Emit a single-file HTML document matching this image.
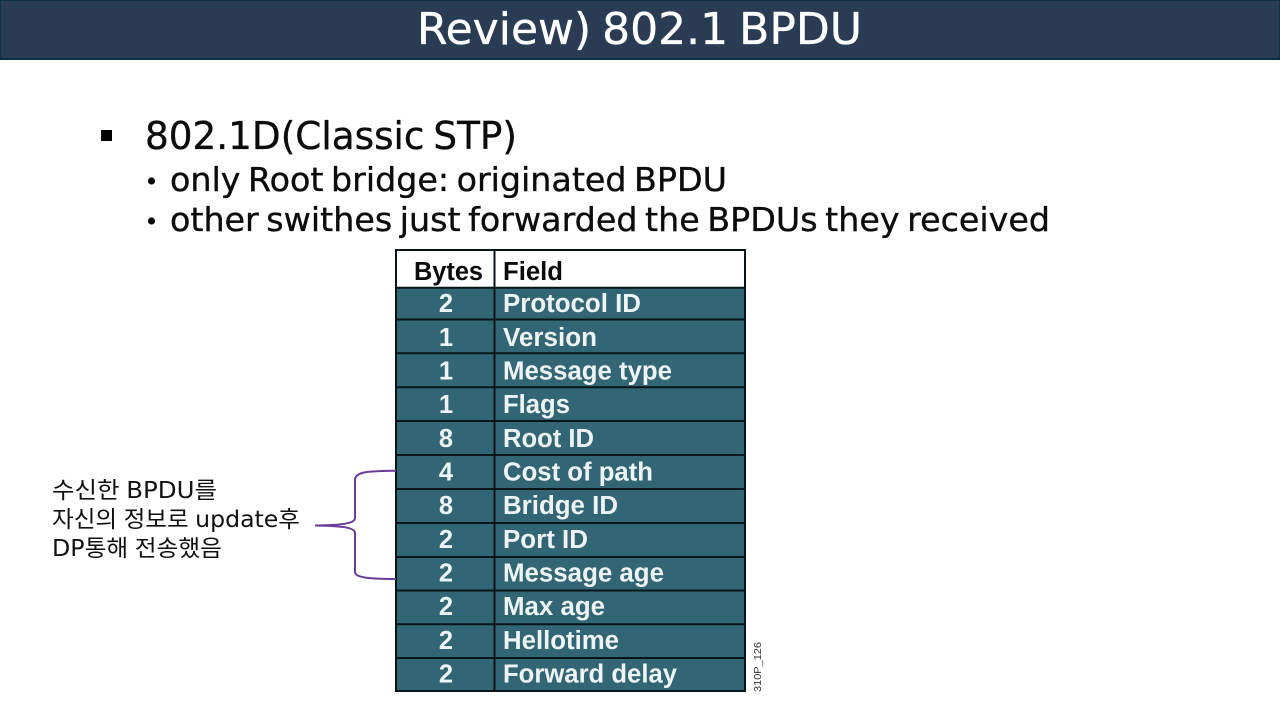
<!DOCTYPE html>
<html lang="en">
<head>
<meta charset="utf-8">
<title>Review) 802.1 BPDU</title>
<style>
html,body{margin:0;padding:0;background:#fff;width:1280px;height:720px;overflow:hidden}
svg{display:block}
.m{font-family:"DejaVu Sans","Noto Sans CJK KR",sans-serif;word-spacing:-3px;stroke-width:.35px}
.k{font-family:"DejaVu Sans","Noto Sans CJK KR",sans-serif;fill:#111;word-spacing:-1px}
.t{font-family:"Liberation Sans",sans-serif;font-weight:700;font-size:25.5px;fill:#eef4f5}
.h{fill:#0a0a0a}
</style>
</head>
<body>
<svg width="1280" height="720" viewBox="0 0 1280 720" xmlns="http://www.w3.org/2000/svg">
<rect width="1280" height="720" fill="#fff"/>
<rect x="0" y="0" width="1280" height="60" fill="#0f2f42"/>
<rect x="1" y="1" width="1278" height="57" fill="#293c54"/>
<text class="m" x="417" y="44" font-size="44" fill="#fff" stroke="#fff" textLength="445" lengthAdjust="spacingAndGlyphs">Review) 802.1 BPDU</text>

<rect x="101" y="130" width="11" height="11" fill="#000"/>
<text class="m" x="145" y="149" font-size="38" fill="#0c0c0c" stroke="#0c0c0c" textLength="372" lengthAdjust="spacingAndGlyphs">802.1D(Classic STP)</text>
<circle cx="151.500" cy="181" r="3.6" fill="#0c0c0c"/>
<text class="m" x="170" y="191" font-size="33" fill="#0c0c0c" stroke="#0c0c0c" textLength="557" lengthAdjust="spacingAndGlyphs">only Root bridge: originated BPDU</text>
<circle cx="151.500" cy="221" r="3.6" fill="#0c0c0c"/>
<text class="m" x="170" y="231" font-size="33" fill="#0c0c0c" stroke="#0c0c0c" textLength="880" lengthAdjust="spacingAndGlyphs">other swithes just forwarded the BPDUs they received</text>

<rect x="396" y="250" width="349" height="442" fill="#336674"/>
<rect x="396" y="250" width="349" height="38" fill="#fff"/>
<g stroke="#07141a" stroke-width="2" fill="none">
<rect x="396" y="250" width="349" height="441"/>
<line x1="494.500" y1="250" x2="494.500" y2="691"/>
<line x1="396" y1="287.700" x2="745" y2="287.700"/>
<line x1="396" y1="319.500" x2="745" y2="319.500"/>
<line x1="396" y1="353.300" x2="745" y2="353.300"/>
<line x1="396" y1="387.200" x2="745" y2="387.200"/>
<line x1="396" y1="421" x2="745" y2="421"/>
<line x1="396" y1="455" x2="745" y2="455"/>
<line x1="396" y1="489" x2="745" y2="489"/>
<line x1="396" y1="523" x2="745" y2="523"/>
<line x1="396" y1="557" x2="745" y2="557"/>
<line x1="396" y1="590.500" x2="745" y2="590.500"/>
<line x1="396" y1="624.300" x2="745" y2="624.300"/>
<line x1="396" y1="658" x2="745" y2="658"/>
</g>

<text class="t h" x="483" y="280" text-anchor="end" textLength="69" lengthAdjust="spacingAndGlyphs">Bytes</text>
<text class="t h" x="503" y="280" textLength="60" lengthAdjust="spacingAndGlyphs">Field</text>

<g text-anchor="middle">
<text class="t" x="446" y="312">2</text>
<text class="t" x="446" y="346">1</text>
<text class="t" x="446" y="379.500">1</text>
<text class="t" x="446" y="413">1</text>
<text class="t" x="446" y="447">8</text>
<text class="t" x="446" y="480.500">4</text>
<text class="t" x="446" y="514">8</text>
<text class="t" x="446" y="548">2</text>
<text class="t" x="446" y="581.500">2</text>
<text class="t" x="446" y="615">2</text>
<text class="t" x="446" y="649">2</text>
<text class="t" x="446" y="682.500">2</text>
</g>
<text class="t" x="503" y="312" textLength="138" lengthAdjust="spacingAndGlyphs">Protocol ID</text>
<text class="t" x="503" y="346" textLength="94" lengthAdjust="spacingAndGlyphs">Version</text>
<text class="t" x="503" y="379.500" textLength="169" lengthAdjust="spacingAndGlyphs">Message type</text>
<text class="t" x="503" y="413" textLength="67" lengthAdjust="spacingAndGlyphs">Flags</text>
<text class="t" x="503" y="447" textLength="91" lengthAdjust="spacingAndGlyphs">Root ID</text>
<text class="t" x="503" y="480.500" textLength="150" lengthAdjust="spacingAndGlyphs">Cost of path</text>
<text class="t" x="503" y="514" textLength="115" lengthAdjust="spacingAndGlyphs">Bridge ID</text>
<text class="t" x="503" y="548" textLength="85" lengthAdjust="spacingAndGlyphs">Port ID</text>
<text class="t" x="503" y="581.500" textLength="161" lengthAdjust="spacingAndGlyphs">Message age</text>
<text class="t" x="503" y="615" textLength="102" lengthAdjust="spacingAndGlyphs">Max age</text>
<text class="t" x="503" y="649" textLength="116" lengthAdjust="spacingAndGlyphs">Hellotime</text>
<text class="t" x="503" y="682.500" textLength="174" lengthAdjust="spacingAndGlyphs">Forward delay</text>

<text font-family="Liberation Sans, sans-serif" font-size="10.500" fill="#333" transform="translate(761 692) rotate(-90)" textLength="50" lengthAdjust="spacingAndGlyphs">310P_126</text>

<path d="M396 470.700 C372 471 355 471 355 480 L355 518 C355 524 340 525 315 525.500 C340 526 355 527 355 533 L355 572 C355 578 372 579 396 579" fill="none" stroke="#6a3d9a" stroke-width="2"/>

<text class="k" x="52" y="498" font-size="23" textLength="165" lengthAdjust="spacingAndGlyphs">수신한 BPDU를</text>
<text class="k" x="52" y="527" font-size="23" textLength="248" lengthAdjust="spacingAndGlyphs">자신의 정보로 update후</text>
<text class="k" x="52" y="556" font-size="23" textLength="170" lengthAdjust="spacingAndGlyphs">DP통해 전송했음</text>
</svg>
</body>
</html>
